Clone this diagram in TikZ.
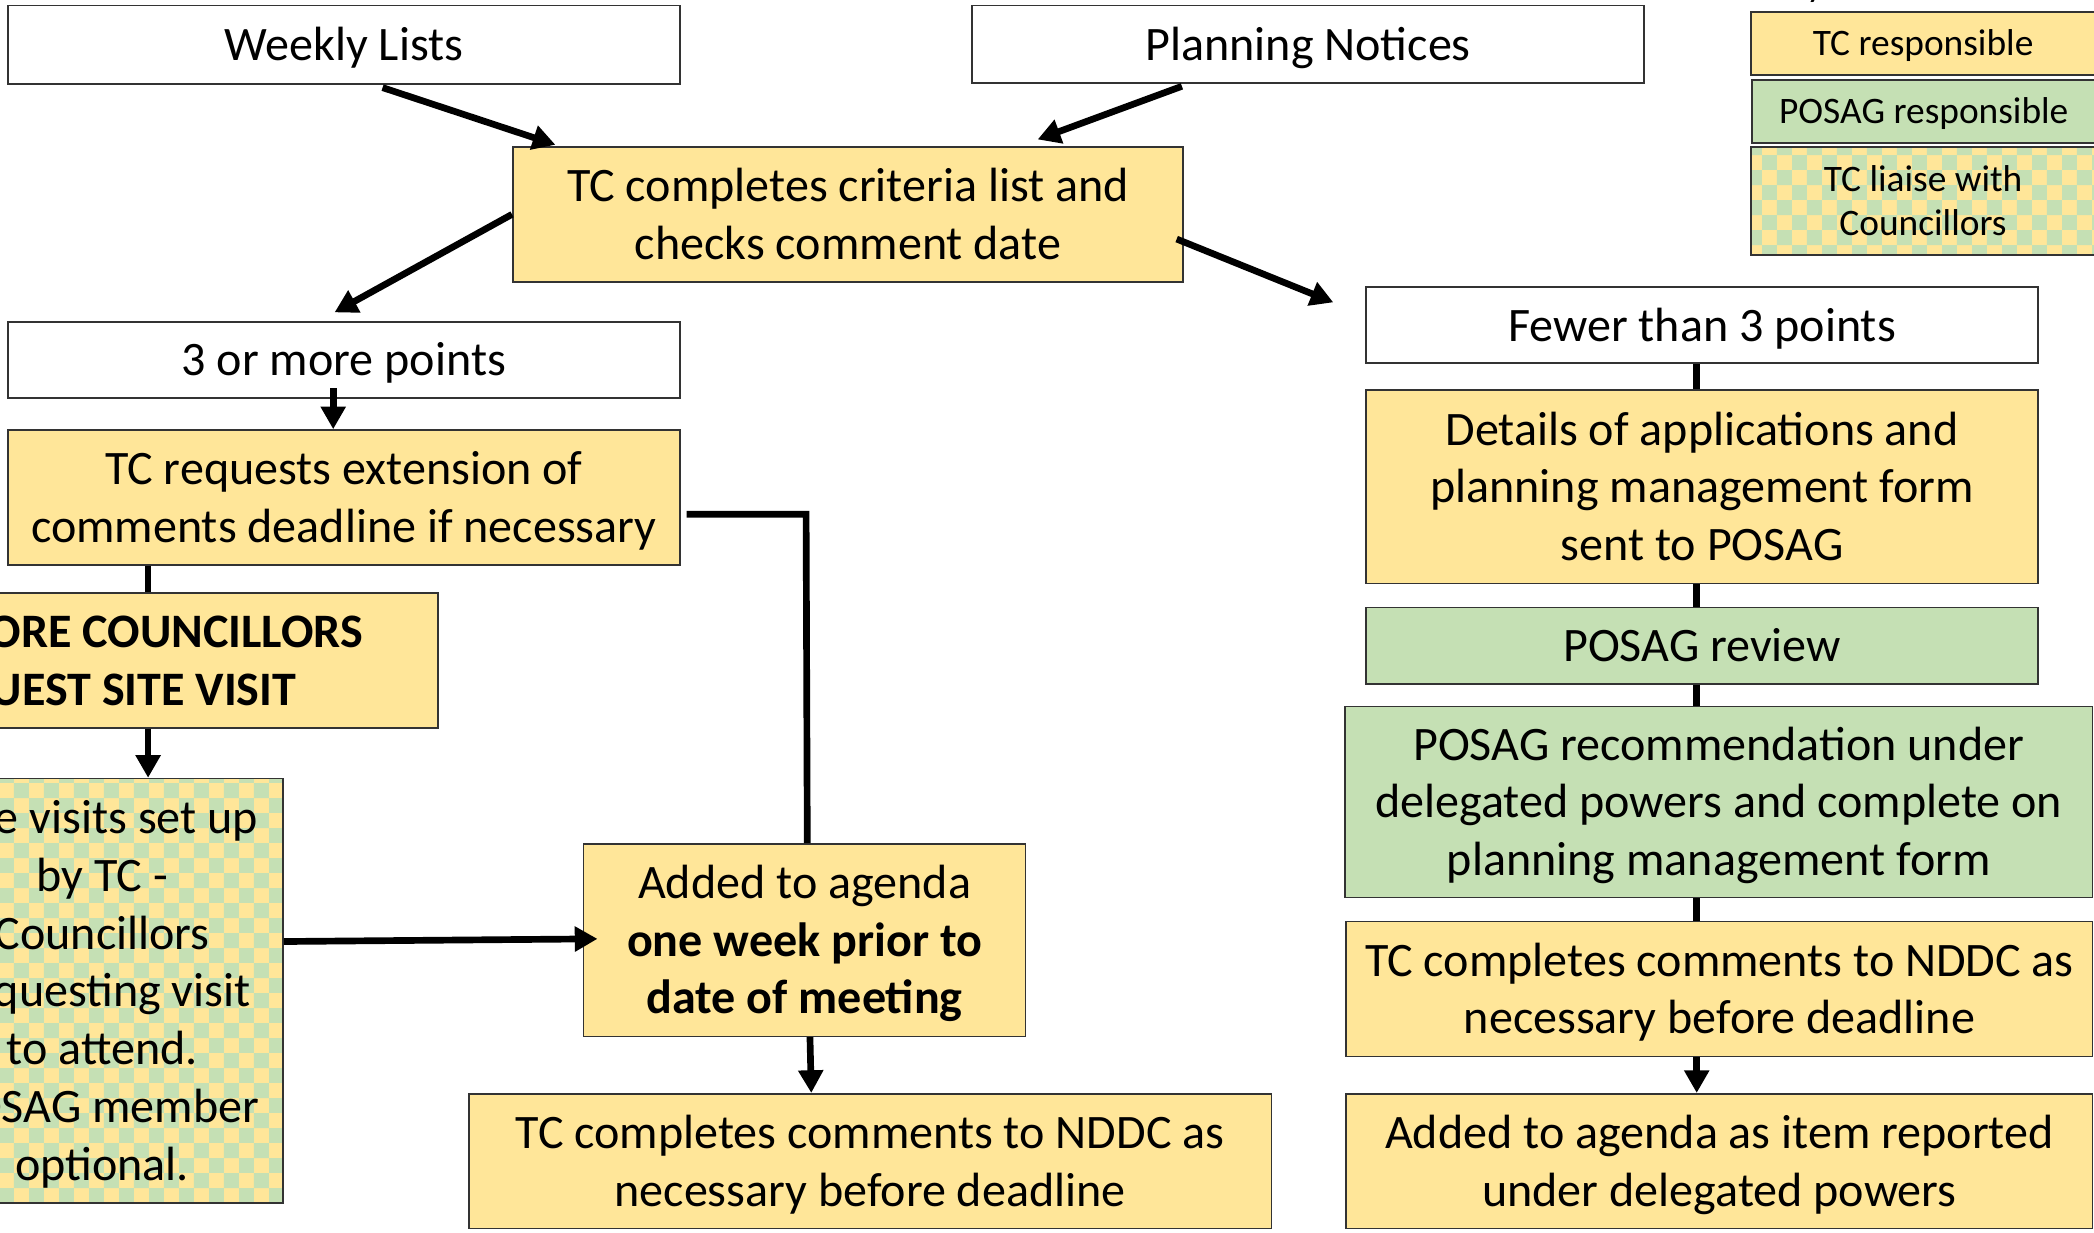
\documentclass[tikz,border=0pt]{standalone}
\usepackage{fontspec}
\setmainfont{Carlito}
\usetikzlibrary{arrows.meta,calc,patterns}
\definecolor{tcy}{HTML}{FFE699}
\definecolor{pg}{HTML}{C5E0B4}
\begin{document}
\begin{tikzpicture}[x=0.5pt,y=-0.5pt,
  box/.style={draw=black!80, line width=0.6pt, inner sep=0pt, align=center,
    font=\fontsize{18}{21.6}\selectfont, text depth=4pt, text height=16pt},
  n2/.style={text height=37.6pt},
  n3/.style={text height=59.2pt},
  n7/.style={text height=145.6pt},
  tcbox/.style={box, fill=tcy},
  posbox/.style={box, fill=pg},
  liaise/.style={box, preaction={fill=tcy}, pattern=checkerboard, pattern color=pg},
  wbox/.style={box, fill=white},
  legend/.style={font=\fontsize{14}{16.5}\selectfont, text height=12.4pt, text depth=3.1pt},
  legend2/.style={legend, text height=28.9pt},
  conn/.style={line width=2.5pt},
  arr/.style={conn, -{Triangle[length=8.5pt,width=9pt]}}
]
\useasboundingbox (0,0) rectangle (1568,923);

% top row
\node[wbox, minimum width=251.5pt, minimum height=29.5pt] (weekly) at (257.5,33.5) {Weekly Lists};
\node[wbox, minimum width=251.5pt, minimum height=29pt] (notices) at (979.5,33) {Planning Notices};
\node[tcbox, n2, minimum width=251pt, minimum height=50.5pt] (crit) at (635,160.5)
  {TC completes criteria list and\\checks comment date};

% left branch
\node[wbox, minimum width=251.5pt, minimum height=28.5pt] (three) at (257.5,269.5) {3 or more points};
\node[tcbox, n2, minimum width=251.5pt, minimum height=50.5pt] (request) at (257.5,372.5)
  {TC requests extension of\\comments deadline if necessary};
\node[tcbox, n2, minimum width=251.5pt, minimum height=50.5pt, font=\fontsize{18}{21.6}\selectfont\bfseries] (council) at (76.5,494.5)
  {2 OR MORE COUNCILLORS\\REQUEST SITE VISIT};
\node[liaise, n7, minimum width=135.5pt, minimum height=159pt] (site) at (76.5,742)
  {Site visits set up\\by TC -\\Councillors\\requesting visit\\to attend.\\POSAG member\\optional.};
\node[tcbox, n3, minimum width=165.5pt, minimum height=72pt] (agenda) at (602.5,704)
  {Added to agenda\\\textbf{one week prior to}\\\textbf{date of meeting}};
\node[tcbox, n2, minimum width=300.5pt, minimum height=50.5pt] (lc) at (651.5,869.5)
  {TC completes comments to NDDC as\\necessary before deadline};

% right branch
\node[wbox, minimum width=251.5pt, minimum height=28.5pt] (fewer) at (1274.5,243.5) {Fewer than 3 points};
\node[tcbox, n3, minimum width=251.5pt, minimum height=72.5pt] (details) at (1274.5,364.5)
  {Details of applications and\\planning management form\\sent to POSAG};
\node[posbox, minimum width=251.5pt, minimum height=28.5pt] (review) at (1274.5,483.5) {POSAG review};
\node[posbox, n3, minimum width=280pt, minimum height=71.5pt] (rec) at (1287,600.5)
  {POSAG recommendation under\\delegated powers and complete on\\planning management form};
\node[tcbox, n2, minimum width=279.5pt, minimum height=50.5pt] (rc) at (1287.5,740.5)
  {TC completes comments to NDDC as\\necessary before deadline};
\node[tcbox, n2, minimum width=279.5pt, minimum height=50.5pt] (ra) at (1287.5,869.5)
  {Added to agenda as item reported\\under delegated powers};

% legend
\node[font=\fontsize{14}{16.5}\selectfont, anchor=base west, inner sep=0pt] (key) at (1324.5,-3) {Key};
\node[tcbox, legend, minimum width=129pt, minimum height=23.5pt] (l1) at (1440,32.5) {TC responsible};
\node[posbox, legend, minimum width=128.5pt, minimum height=23.5pt] (l2) at (1440.5,83.5) {POSAG responsible};
\node[liaise, legend2, minimum width=129pt, minimum height=40.5pt] (l3) at (1440,150.5) {TC liaise with\\Councillors};

% connectors
\draw[arr] ($(weekly.south)+(29,2)$) -- ($(crit.north west)+(32.5,-1)$);
\draw[arr] ($(notices.south)+(-94.5,2)$) -- ($(crit.north)+(142,-5)$);
\draw[arr] (crit.west) -- ($(three.north)+(-7,-6.5)$);
\draw[arr] ($(crit.east)+(-5.5,18.5)$) -- ($(fewer.north west)+(-24,12)$);
\draw[arr] ($(three.south)+(-8,-8)$) -- ($(request.north)+(-8,0)$);
\draw[conn] ($(request.south west)+(105.5,0)$) coordinate (f1) -- (f1 |- council.north);
\draw[arr] (f1 |- council.south) -- (f1 |- site.north);
\draw[conn] ($(request.east)+(4.5,12.5)$) -- ++(89.5,0) -- ($(agenda.north)+(2,0)$);
\draw[arr] ($(site.east)+(0,-37)$) -- ($(agenda.west)+(11,-1)$);
\draw[arr] ($(agenda.south)+(4,0)$) -- ($(lc.north)+(-44,0)$);

\coordinate (rx) at (1270.5,0);
\draw[conn] (fewer.south -| rx) -- (details.north -| rx);
\draw[conn] (details.south -| rx) -- (review.north -| rx);
\draw[conn] (review.south -| rx) -- (rec.north -| rx);
\draw[conn] (rec.south -| rx) -- (rc.north -| rx);
\draw[arr] (rc.south -| rx) -- (ra.north -| rx);
\end{tikzpicture}
\end{document}
